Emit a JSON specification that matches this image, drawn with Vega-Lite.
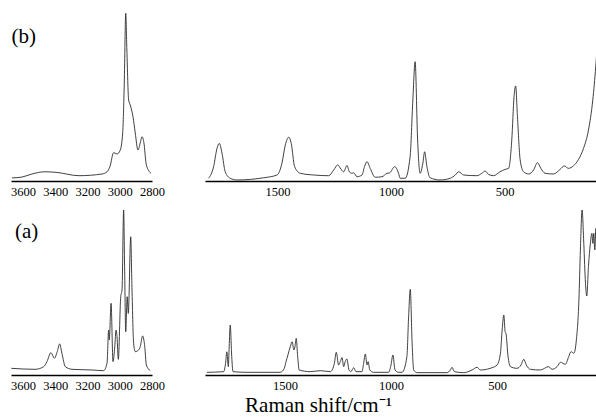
{
  "$schema": "https://vega.github.io/schema/vega-lite/v6.json",
  "padding": {"left": 9, "top": 10, "right": 0, "bottom": 0},
  "background": "white",
  "spacing": 10,
  "config": {
    "view": {"stroke": null},
    "axis": {"domainColor": "#000", "domainWidth": 1.4, "ticks": false, "tickSize": 0, "grid": false, "labelFont": "Liberation Serif", "labelFontSize": 12.5, "labelColor": "#000", "labelPadding": 4, "labelFlush": false, "labelOverlap": false, "labelBound": false}
  },
  "datasets": {
    "tl": [
      {"shift":3669,"intensity":0.018},{"shift":3607,"intensity":0.023},{"shift":3545,"intensity":0.041},{"shift":3464,"intensity":0.054},{"shift":3390,"intensity":0.050},{"shift":3253,"intensity":0.031},{"shift":3110,"intensity":0.041},{"shift":3079,"intensity":0.054},{"shift":3061,"intensity":0.084},{"shift":3038,"intensity":0.166},{"shift":3017,"intensity":0.158},{"shift":2997,"intensity":0.181},{"shift":2982,"intensity":0.281},{"shift":2972,"intensity":0.573},{"shift":2963,"intensity":0.981},{"shift":2956,"intensity":0.766},{"shift":2945,"intensity":0.474},{"shift":2935,"intensity":0.444},{"shift":2918,"intensity":0.376},{"shift":2904,"intensity":0.281},{"shift":2887,"intensity":0.181},{"shift":2873,"intensity":0.222},{"shift":2862,"intensity":0.259},{"shift":2850,"intensity":0.222},{"shift":2837,"intensity":0.105},{"shift":2820,"intensity":0.060},{"shift":2806,"intensity":0.045}
    ],
    "bl": [
      {"shift":3673,"intensity":0.040},{"shift":3526,"intensity":0.034},{"shift":3472,"intensity":0.050},{"shift":3452,"intensity":0.080},{"shift":3427,"intensity":0.134},{"shift":3406,"intensity":0.100},{"shift":3388,"intensity":0.140},{"shift":3373,"intensity":0.186},{"shift":3359,"intensity":0.130},{"shift":3338,"intensity":0.050},{"shift":3296,"intensity":0.034},{"shift":3172,"intensity":0.030},{"shift":3100,"intensity":0.026},{"shift":3079,"intensity":0.072},{"shift":3069,"intensity":0.269},{"shift":3065,"intensity":0.210},{"shift":3054,"intensity":0.429},{"shift":3042,"intensity":0.080},{"shift":3031,"intensity":0.170},{"shift":3023,"intensity":0.269},{"shift":3017,"intensity":0.229},{"shift":3009,"intensity":0.094},{"shift":2994,"intensity":0.469},{"shift":2986,"intensity":0.509},{"shift":2976,"intensity":0.988},{"shift":2970,"intensity":0.648},{"shift":2963,"intensity":0.259},{"shift":2954,"intensity":0.469},{"shift":2947,"intensity":0.369},{"shift":2932,"intensity":0.828},{"shift":2925,"intensity":0.549},{"shift":2914,"intensity":0.190},{"shift":2904,"intensity":0.140},{"shift":2883,"intensity":0.150},{"shift":2873,"intensity":0.170},{"shift":2858,"intensity":0.234},{"shift":2845,"intensity":0.170},{"shift":2835,"intensity":0.060},{"shift":2811,"intensity":0.026}
    ],
    "tr": [
      {"shift":1804,"intensity":0.016},{"shift":1782,"intensity":0.084},{"shift":1767,"intensity":0.191},{"shift":1757,"intensity":0.220},{"shift":1745,"intensity":0.162},{"shift":1731,"intensity":0.054},{"shift":1709,"intensity":0.016},{"shift":1679,"intensity":0.006},{"shift":1561,"intensity":0.019},{"shift":1503,"intensity":0.035},{"shift":1481,"intensity":0.103},{"shift":1466,"intensity":0.211},{"shift":1451,"intensity":0.256},{"shift":1440,"intensity":0.220},{"shift":1425,"intensity":0.084},{"shift":1400,"intensity":0.045},{"shift":1341,"intensity":0.035},{"shift":1275,"intensity":0.031},{"shift":1253,"intensity":0.064},{"shift":1235,"intensity":0.094},{"shift":1221,"intensity":0.070},{"shift":1209,"intensity":0.054},{"shift":1194,"intensity":0.091},{"shift":1184,"intensity":0.054},{"shift":1172,"intensity":0.045},{"shift":1165,"intensity":0.048},{"shift":1150,"intensity":0.025},{"shift":1128,"intensity":0.035},{"shift":1117,"intensity":0.084},{"shift":1106,"intensity":0.113},{"shift":1092,"intensity":0.074},{"shift":1070,"intensity":0.022},{"shift":1040,"intensity":0.025},{"shift":1018,"intensity":0.045},{"shift":1006,"intensity":0.048},{"shift":984,"intensity":0.084},{"shift":967,"intensity":0.045},{"shift":960,"intensity":0.016},{"shift":938,"intensity":0.016},{"shift":916,"intensity":0.143},{"shift":904,"intensity":0.474},{"shift":894,"intensity":0.698},{"shift":883,"intensity":0.240},{"shift":872,"intensity":0.045},{"shift":860,"intensity":0.103},{"shift":852,"intensity":0.171},{"shift":842,"intensity":0.084},{"shift":828,"intensity":0.019},{"shift":784,"intensity":0.006},{"shift":739,"intensity":0.016},{"shift":717,"intensity":0.035},{"shift":702,"intensity":0.054},{"shift":680,"intensity":0.035},{"shift":622,"intensity":0.031},{"shift":600,"intensity":0.045},{"shift":585,"intensity":0.058},{"shift":571,"intensity":0.039},{"shift":548,"intensity":0.031},{"shift":520,"intensity":0.054},{"shift":497,"intensity":0.068},{"shift":482,"intensity":0.074},{"shift":468,"intensity":0.240},{"shift":458,"intensity":0.493},{"shift":451,"intensity":0.556},{"shift":443,"intensity":0.376},{"shift":431,"intensity":0.123},{"shift":416,"intensity":0.054},{"shift":394,"intensity":0.041},{"shift":372,"intensity":0.064},{"shift":355,"intensity":0.107},{"shift":340,"intensity":0.074},{"shift":321,"intensity":0.045},{"shift":284,"intensity":0.041},{"shift":255,"intensity":0.068},{"shift":237,"intensity":0.088},{"shift":218,"intensity":0.074},{"shift":196,"intensity":0.089},{"shift":174,"intensity":0.126},{"shift":152,"intensity":0.190},{"shift":130,"intensity":0.298},{"shift":111,"intensity":0.474},{"shift":98,"intensity":0.668},{"shift":89,"intensity":0.844}
    ],
    "br": [
      {"shift":1868,"intensity":0.016},{"shift":1789,"intensity":0.020},{"shift":1780,"intensity":0.070},{"shift":1774,"intensity":0.139},{"shift":1767,"intensity":0.050},{"shift":1763,"intensity":0.169},{"shift":1758,"intensity":0.299},{"shift":1751,"intensity":0.110},{"shift":1745,"intensity":0.020},{"shift":1679,"intensity":0.016},{"shift":1522,"intensity":0.016},{"shift":1503,"intensity":0.040},{"shift":1495,"intensity":0.080},{"shift":1486,"intensity":0.120},{"shift":1475,"intensity":0.169},{"shift":1466,"intensity":0.199},{"shift":1458,"intensity":0.150},{"shift":1453,"intensity":0.169},{"shift":1447,"intensity":0.219},{"shift":1440,"intensity":0.110},{"shift":1433,"intensity":0.030},{"shift":1381,"intensity":0.020},{"shift":1333,"intensity":0.026},{"shift":1286,"intensity":0.020},{"shift":1267,"intensity":0.070},{"shift":1258,"intensity":0.136},{"shift":1247,"intensity":0.060},{"shift":1239,"intensity":0.080},{"shift":1231,"intensity":0.104},{"shift":1223,"intensity":0.050},{"shift":1216,"intensity":0.080},{"shift":1208,"intensity":0.096},{"shift":1198,"intensity":0.030},{"shift":1189,"intensity":0.020},{"shift":1176,"intensity":0.044},{"shift":1165,"intensity":0.020},{"shift":1137,"intensity":0.020},{"shift":1129,"intensity":0.070},{"shift":1121,"intensity":0.126},{"shift":1113,"intensity":0.060},{"shift":1108,"intensity":0.080},{"shift":1100,"intensity":0.030},{"shift":1082,"intensity":0.016},{"shift":1011,"intensity":0.016},{"shift":1000,"intensity":0.060},{"shift":991,"intensity":0.120},{"shift":981,"intensity":0.030},{"shift":964,"intensity":0.016},{"shift":948,"intensity":0.016},{"shift":925,"intensity":0.110},{"shift":917,"intensity":0.349},{"shift":909,"intensity":0.513},{"shift":901,"intensity":0.210},{"shift":893,"intensity":0.030},{"shift":877,"intensity":0.014},{"shift":736,"intensity":0.014},{"shift":720,"intensity":0.030},{"shift":712,"intensity":0.046},{"shift":701,"intensity":0.020},{"shift":657,"intensity":0.014},{"shift":618,"intensity":0.030},{"shift":594,"intensity":0.046},{"shift":579,"intensity":0.030},{"shift":532,"intensity":0.040},{"shift":500,"intensity":0.060},{"shift":484,"intensity":0.130},{"shift":476,"intensity":0.269},{"shift":468,"intensity":0.359},{"shift":462,"intensity":0.259},{"shift":458,"intensity":0.249},{"shift":448,"intensity":0.110},{"shift":437,"intensity":0.050},{"shift":406,"intensity":0.040},{"shift":387,"intensity":0.060},{"shift":374,"intensity":0.094},{"shift":362,"intensity":0.060},{"shift":343,"intensity":0.034},{"shift":296,"intensity":0.030},{"shift":256,"intensity":0.050},{"shift":241,"intensity":0.034},{"shift":217,"intensity":0.050},{"shift":201,"intensity":0.076},{"shift":178,"intensity":0.064},{"shift":162,"intensity":0.110},{"shift":151,"intensity":0.140},{"shift":138,"intensity":0.130},{"shift":126,"intensity":0.210},{"shift":114,"intensity":0.449},{"shift":107,"intensity":0.749},{"shift":99,"intensity":0.988},{"shift":91,"intensity":0.788},{"shift":83,"intensity":0.549},{"shift":77,"intensity":0.473},{"shift":69,"intensity":0.649},{"shift":60,"intensity":0.788},{"shift":53,"intensity":0.848},{"shift":48,"intensity":0.788},{"shift":44,"intensity":0.848},{"shift":39,"intensity":0.749},{"shift":34,"intensity":0.878},{"shift":28,"intensity":0.728},{"shift":24,"intensity":0.858}
    ]
  },
  "vconcat": [
    {
      "bounds": "flush",
      "spacing": 53,
      "hconcat": [
        {
          "width": 141, "height": 171,
          "layer": [
            {
              "data": {"name": "tl"},
              "mark": {"type": "line", "interpolate": "monotone", "color": "#2b2b2b", "strokeWidth": 0.9},
              "encoding": {
                "x": {"field": "shift", "type": "quantitative", "scale": {"domain": [2800, 3675], "reverse": true, "nice": false, "zero": false}, "axis": {"values": [3600, 3400, 3200, 3000, 2800], "tickCount": 10, "format": "d", "title": null, "labelOverlap": false, "labelFont": "Liberation Serif"}},
                "y": {"field": "intensity", "type": "quantitative", "scale": {"domain": [0, 1], "nice": false}, "axis": null}
              }
            },
            {
              "data": {"values": [{"shift": 3672, "intensity": 0.807, "label": "(b)"}]},
              "mark": {"type": "text", "align": "left", "baseline": "alphabetic", "font": "Liberation Serif", "fontSize": 21, "color": "#000"},
              "encoding": {
                "x": {"field": "shift", "type": "quantitative"},
                "y": {"field": "intensity", "type": "quantitative"},
                "text": {"field": "label"}
              }
            }
          ]
        },
        {
          "width": 393, "height": 171,
          "data": {"name": "tr"},
          "mark": {"type": "line", "interpolate": "monotone", "color": "#2b2b2b", "strokeWidth": 0.9},
          "encoding": {
            "x": {"field": "shift", "type": "quantitative", "scale": {"domain": [88, 1820], "reverse": true, "nice": false, "zero": false}, "axis": {"values": [1500, 1000, 500], "tickCount": 10, "format": "d", "title": null, "labelOverlap": false, "labelFont": "Liberation Serif"}},
            "y": {"field": "intensity", "type": "quantitative", "scale": {"domain": [0, 1], "nice": false}, "axis": null}
          }
        }
      ]
    },
    {
      "bounds": "flush",
      "spacing": 53,
      "hconcat": [
        {
          "width": 141, "height": 167,
          "layer": [
            {
              "data": {"name": "bl"},
              "mark": {"type": "line", "interpolate": "monotone", "color": "#2b2b2b", "strokeWidth": 0.9},
              "encoding": {
                "x": {"field": "shift", "type": "quantitative", "scale": {"domain": [2800, 3675], "reverse": true, "nice": false, "zero": false}, "axis": {"values": [3600, 3400, 3200, 3000, 2800], "tickCount": 10, "format": "d", "title": null, "labelOverlap": false, "labelFont": "Liberation Serif"}},
                "y": {"field": "intensity", "type": "quantitative", "scale": {"domain": [0, 1], "nice": false}, "axis": null}
              }
            },
            {
              "data": {"values": [{"shift": 3650, "intensity": 0.82, "label": "(a)"}]},
              "mark": {"type": "text", "align": "left", "baseline": "alphabetic", "font": "Liberation Serif", "fontSize": 21, "color": "#000"},
              "encoding": {
                "x": {"field": "shift", "type": "quantitative"},
                "y": {"field": "intensity", "type": "quantitative"},
                "text": {"field": "label"}
              }
            }
          ]
        },
        {
          "width": 393, "height": 167,
          "data": {"name": "br"},
          "mark": {"type": "line", "interpolate": "monotone", "color": "#2b2b2b", "strokeWidth": 0.9},
          "encoding": {
            "x": {"field": "shift", "type": "quantitative", "scale": {"domain": [24, 1877], "reverse": true, "nice": false, "zero": false}, "axis": {"values": [1500, 1000, 500], "tickCount": 10, "format": "d", "labelOverlap": false, "labelFont": "Liberation Serif", "title": "Raman shift/cm⁻¹", "titleFont": "Liberation Serif", "titleFontSize": 21, "titleFontWeight": "normal", "titleColor": "#000", "titleX": 113, "titleY": 36, "titleAlign": "center", "titleBaseline": "alphabetic"}},
            "y": {"field": "intensity", "type": "quantitative", "scale": {"domain": [0, 1], "nice": false}, "axis": null}
          }
        }
      ]
    }
  ]
}
